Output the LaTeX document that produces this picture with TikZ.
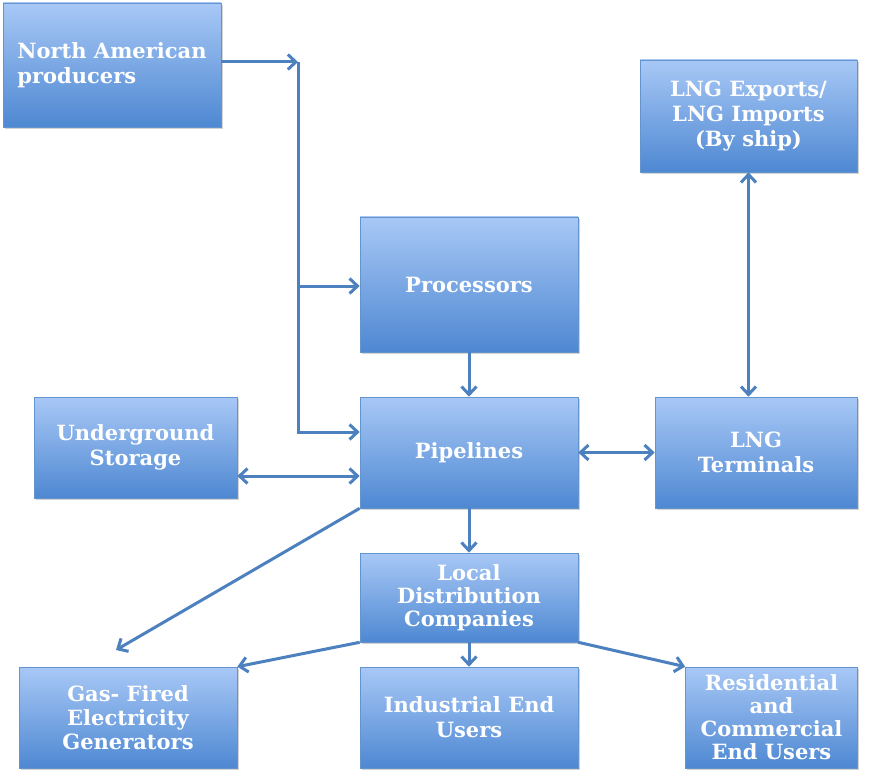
\documentclass[tikz,border=0pt]{standalone}
\usepackage{fontspec}
\setmainfont{DejaVu Serif}
\usetikzlibrary{arrows.meta,shadows}
\definecolor{boxtop}{RGB}{168,200,246}
\definecolor{boxbot}{RGB}{78,136,210}
\definecolor{boxline}{RGB}{100,148,206}
\definecolor{arr}{RGB}{76,128,190}
\tikzset{
  box/.style={draw=boxline, line width=0.6pt, top color=boxtop, bottom color=boxbot,
    drop shadow={opacity=0.35, shadow xshift=1.5pt, shadow yshift=-2pt},
    text=white, align=center, inner sep=2pt,
    font=\fontsize{21}{25}\selectfont\bfseries},
  conn/.style={draw=arr, line width=3pt},
  tip/.style={-{Straight Barb[length=8pt,width=15pt,line width=3pt]}},
  both/.style={{Straight Barb[length=8pt,width=15pt,line width=3pt]}-{Straight Barb[length=8pt,width=15pt,line width=3pt]}},
}
\begin{document}
\begin{tikzpicture}[x=1pt,y=-1pt]
\useasboundingbox (0,0) rectangle (873,770);
\node[box, minimum width=218, minimum height=124, align=left] (na) at (112,65) {North American\\producers};
\node[box, minimum width=218, minimum height=135] (proc) at (469,284.5) {Processors};
\node[box, minimum width=217, minimum height=112] (lngx) at (748.5,116) {LNG Exports/\\LNG Imports\\(By ship)};
\node[box, minimum width=203, minimum height=101] (store) at (135.5,447.5) {Underground\\Storage};
\node[box, minimum width=218, minimum height=111] (pipe) at (469,452.5) {Pipelines};
\node[box, minimum width=202, minimum height=111] (term) at (756,452.5) {LNG\\Terminals};
\node[box, minimum width=218, minimum height=89, font=\fontsize{21}{23}\selectfont\bfseries] (ldc) at (469,597.5) {Local\\Distribution\\Companies};
\node[box, minimum width=218, minimum height=101, font=\fontsize{21}{24}\selectfont\bfseries] (gas) at (128,717.5) {Gas- Fired\\Electricity\\Generators};
\node[box, minimum width=218, minimum height=101] (ind) at (469,717.5) {Industrial End\\Users};
\node[box, minimum width=172, minimum height=101, font=\fontsize{21}{23}\selectfont\bfseries] (res) at (771.5,717.5) {Residential\\and\\Commercial\\End Users};

\coordinate (j1) at (298,62);
\coordinate (j2) at (298,286);
\coordinate (j3) at (298,432);
\coordinate (sy) at (0,476);
\coordinate (gtip) at (116,650);

\draw[conn,tip] (na.east |- j1) -- (j1);
\draw[conn,tip] (j1) -- (j3) -- (pipe.west |- j3);
\draw[conn,tip] (j2) -- (proc.west |- j2);
\draw[conn,tip] (proc.south) -- (pipe.north);
\draw[conn,both] (store.east |- sy) -- (pipe.west |- sy);
\draw[conn,both] (pipe.east) -- (term.west);
\draw[conn,both] (lngx.south) -- (lngx.south |- term.north);
\draw[conn,tip] (pipe.south) -- (ldc.north);
\draw[conn,tip] (pipe.south west) -- (gtip);
\draw[conn,tip] (ldc.south west) -- (gas.north east);
\draw[conn,tip] (ldc.south) -- (ind.north);
\draw[conn,tip] (ldc.south east) -- (res.north west);
\end{tikzpicture}
\end{document}
